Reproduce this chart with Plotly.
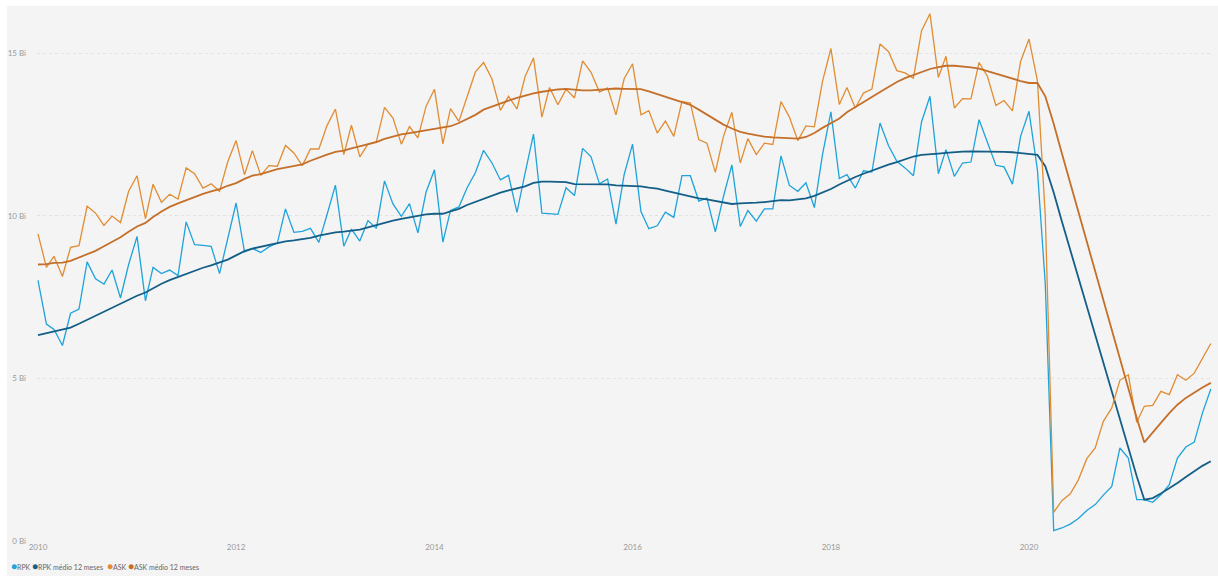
import pandas as pd
import plotly.graph_objects as go

# Monthly series, Jan 2010 - Nov 2021 (billions)
months = pd.date_range("2010-01-01", periods=143, freq="MS")

rpk = [
    8.01, 6.67, 6.50, 6.01, 7.00, 7.13, 8.58, 8.06, 7.90, 8.33, 7.47, 8.50,
    9.36, 7.38, 8.41, 8.22, 8.33, 8.16, 9.81, 9.11, 9.09, 9.06, 8.22, 9.28,
    10.39, 8.89, 8.99, 8.87, 9.04, 9.16, 10.21, 9.49, 9.52, 9.61, 9.18, 10.03,
    10.94, 9.06, 9.59, 9.22, 9.85, 9.61, 11.07, 10.36, 9.98, 10.37, 9.47, 10.72,
    11.41, 9.19, 10.16, 10.27, 10.85, 11.33, 12.01, 11.62, 11.10, 11.24, 10.10, 11.31,
    12.51, 10.08, 10.06, 10.04, 10.86, 10.62, 12.07, 11.81, 10.98, 11.13, 9.74, 11.26,
    12.20, 10.13, 9.60, 9.69, 10.11, 9.95, 11.23, 11.23, 10.45, 10.54, 9.50, 10.59,
    11.56, 9.67, 10.16, 9.83, 10.21, 10.21, 11.84, 10.93, 10.75, 11.01, 10.25, 11.88,
    13.19, 11.14, 11.26, 10.85, 11.38, 11.34, 12.85, 12.16, 11.67, 11.47, 11.23, 12.88,
    13.67, 11.29, 12.03, 11.21, 11.62, 11.65, 12.95, 12.25, 11.55, 11.50, 10.97, 12.44,
    13.21, 11.41, 7.90, 0.32, 0.40, 0.52, 0.69, 0.94, 1.12, 1.41, 1.68, 2.86,
    2.55, 1.27, 1.27, 1.19, 1.42, 1.73, 2.55, 2.89, 3.04, 3.93, 4.67,
]

rpk_avg12 = [
    6.33, 6.39, 6.46, 6.50, 6.56, 6.68, 6.80, 6.93, 7.06, 7.18, 7.30, 7.43,
    7.54, 7.64, 7.77, 7.91, 8.02, 8.12, 8.22, 8.31, 8.40, 8.47, 8.55, 8.65,
    8.78, 8.91, 8.99, 9.05, 9.11, 9.17, 9.21, 9.24, 9.27, 9.32, 9.39, 9.45,
    9.49, 9.51, 9.54, 9.57, 9.64, 9.71, 9.79, 9.85, 9.90, 9.95, 10.00, 10.04,
    10.06, 10.06, 10.13, 10.21, 10.33, 10.43, 10.52, 10.61, 10.71, 10.78, 10.84, 10.90,
    11.01, 11.05, 11.05, 11.04, 11.03, 10.97, 10.97, 10.98, 10.98, 10.96, 10.93, 10.92,
    10.90, 10.90, 10.86, 10.83, 10.77, 10.71, 10.65, 10.58, 10.53, 10.50, 10.46, 10.41,
    10.36, 10.38, 10.40, 10.40, 10.42, 10.44, 10.48, 10.47, 10.49, 10.53, 10.61, 10.72,
    10.82, 10.96, 11.08, 11.19, 11.29, 11.39, 11.48, 11.57, 11.65, 11.74, 11.82, 11.87,
    11.88, 11.91, 11.93, 11.96, 11.97, 11.98, 11.98, 11.98, 11.97, 11.96, 11.95, 11.92,
    11.88, 11.87, 11.52, 10.71, 9.83, 8.95, 8.10, 7.23, 6.35, 5.47, 4.63, 3.75,
    2.86, 1.99, 1.27, 1.32, 1.46, 1.61, 1.78, 1.97, 2.15, 2.31, 2.45,
]

ask = [
    9.44, 8.41, 8.75, 8.13, 9.03, 9.08, 10.29, 10.08, 9.70, 9.99, 9.79, 10.75,
    11.23, 9.91, 10.97, 10.41, 10.66, 10.51, 11.47, 11.29, 10.85, 10.98, 10.75, 11.65,
    12.31, 11.26, 12.00, 11.24, 11.54, 11.52, 12.16, 11.93, 11.54, 12.05, 12.05, 12.77,
    13.28, 11.88, 12.78, 11.81, 12.20, 12.28, 13.33, 13.00, 12.20, 12.74, 12.39, 13.36,
    13.89, 12.21, 13.29, 12.90, 13.65, 14.42, 14.71, 14.20, 13.24, 13.67, 13.28, 14.28,
    14.85, 13.03, 13.94, 13.41, 13.89, 13.62, 14.76, 14.41, 13.80, 13.93, 13.10, 14.21,
    14.67, 13.10, 13.23, 12.54, 12.91, 12.44, 13.51, 13.46, 12.34, 12.23, 11.33, 12.44,
    13.18, 11.62, 12.37, 11.88, 12.23, 12.19, 13.51, 13.03, 12.31, 12.76, 12.73, 14.13,
    15.14, 13.42, 13.94, 13.31, 13.77, 13.89, 15.28, 15.05, 14.46, 14.39, 14.23, 15.69,
    16.21, 14.25, 14.90, 13.31, 13.60, 13.59, 14.71, 14.28, 13.39, 13.54, 13.22, 14.74,
    15.43, 14.15, 10.00, 0.88, 1.24, 1.45, 1.88, 2.53, 2.86, 3.68, 4.09, 4.94,
    5.11, 3.65, 4.14, 4.17, 4.60, 4.50, 5.11, 4.94, 5.16, 5.59, 6.07,
]

ask_avg12 = [
    8.50, 8.51, 8.55, 8.56, 8.61, 8.71, 8.81, 8.92, 9.06, 9.19, 9.34, 9.51,
    9.67, 9.78, 9.96, 10.13, 10.27, 10.38, 10.48, 10.57, 10.67, 10.75, 10.82, 10.92,
    11.00, 11.13, 11.23, 11.28, 11.36, 11.43, 11.48, 11.53, 11.58, 11.69, 11.79, 11.88,
    11.96, 12.00, 12.07, 12.13, 12.20, 12.26, 12.36, 12.44, 12.50, 12.54, 12.58, 12.63,
    12.66, 12.70, 12.75, 12.85, 12.97, 13.10, 13.26, 13.36, 13.46, 13.54, 13.62, 13.69,
    13.76, 13.81, 13.85, 13.88, 13.90, 13.87, 13.85, 13.85, 13.87, 13.91, 13.91, 13.90,
    13.89, 13.89, 13.82, 13.74, 13.67, 13.59, 13.50, 13.41, 13.26, 13.10, 12.95, 12.80,
    12.68, 12.58, 12.52, 12.47, 12.43, 12.41, 12.40, 12.38, 12.37, 12.42, 12.54, 12.70,
    12.84, 12.99, 13.18, 13.33, 13.48, 13.65, 13.80, 13.96, 14.11, 14.23, 14.33, 14.43,
    14.51, 14.57, 14.61, 14.61, 14.59, 14.56, 14.52, 14.44, 14.37, 14.28, 14.20, 14.14,
    14.08, 14.08, 13.67, 12.83, 11.92, 11.00, 10.13, 9.22, 8.31, 7.40, 6.52, 5.60,
    4.69, 3.78, 3.03, 3.32, 3.63, 3.93, 4.19, 4.40, 4.57, 4.72, 4.86,
]

series_names = ["RPK", "RPK médio 12 meses", "ASK", "ASK médio 12 meses"]
series_colors = ["#1FA3DA", "#145E87", "#E08D33", "#C46F2A"]
series_widths = [1.3, 1.8, 1.3, 1.8]
y_ticks = [0, 5, 10, 15]
y_tick_text = ["0 Bi", "5 Bi", "10 Bi", "15 Bi"]

W, H = 1218, 576
L, R, T, B = 37, 5, 8, 35
plot_w = W - L - R
plot_h = H - T - B
px_per_bi = 32.53
y_top = plot_h / px_per_bi

# date axis: Jan 2010 sits 1 px inside the left edge
first = pd.Timestamp("2010-01-01")
px_per_day = 991.0 / (pd.Timestamp("2020-01-01") - first).days
x_start = first - pd.Timedelta(days=1.0 / px_per_day)
x_end = x_start + pd.Timedelta(days=plot_w / px_per_day)

FONT = "Segoe UI, Lato, Liberation Sans, sans-serif"

fig = go.Figure()
for name, vals, col, lw in zip(series_names, [rpk, rpk_avg12, ask, ask_avg12],
                               series_colors, series_widths):
    fig.add_trace(go.Scatter(
        x=months, y=vals, mode="lines", name=name,
        line=dict(color=col, width=lw), showlegend=False,
    ))


def px_to_paper_x(px):
    return (px - L) / plot_w


def px_to_paper_y(py):
    return (H - B - py) / plot_h


# panel background
fig.add_shape(type="rect", xref="paper", yref="paper", layer="below",
              x0=px_to_paper_x(7), x1=px_to_paper_x(W + 2),
              y0=px_to_paper_y(H + 2), y1=px_to_paper_y(6),
              fillcolor="#F4F4F4", line=dict(width=0))

# legend row
legend_x = [9, 30, 105, 126]
for name, col, lx in zip(series_names, series_colors, legend_x):
    fig.add_annotation(
        xref="paper", yref="paper",
        x=px_to_paper_x(lx), y=px_to_paper_y(566),
        xanchor="left", yanchor="middle", showarrow=False,
        text=f'<span style="color:{col};font-size:10px">●</span>{name}',
        font=dict(family=FONT, size=7, color="#666666"),
    )

fig.update_layout(
    width=W, height=H,
    margin=dict(l=L, r=R, t=T, b=B),
    paper_bgcolor="white",
    plot_bgcolor="rgba(0,0,0,0)",
    font=dict(family=FONT, size=8, color="#999999"),
    xaxis=dict(
        type="date", range=[x_start, x_end],
        tick0="2010-01-01", dtick="M24", tickformat="%Y",
        showgrid=False, zeroline=False, showline=False,
        ticks="", tickfont=dict(size=8, color="#999999"),
    ),
    yaxis=dict(
        range=[0, y_top], tickvals=y_ticks, ticktext=y_tick_text,
        showgrid=True, gridcolor="#E2E2E2", griddash="dot", gridwidth=1,
        zeroline=False, showline=False, ticks="",
        ticklabelstandoff=10,
        tickfont=dict(size=8, color="#999999"),
    ),
    showlegend=False,
)

fig.write_html("out.html")
